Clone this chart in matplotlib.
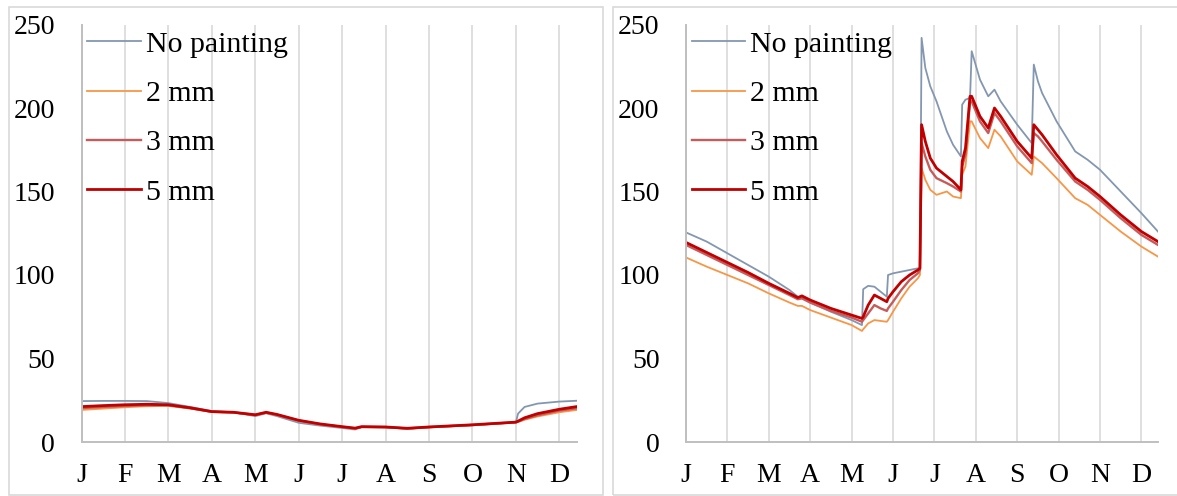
import matplotlib
matplotlib.use("Agg")
import matplotlib.pyplot as plt
from matplotlib.patches import Rectangle

plt.rcParams['font.family'] = ['Liberation Serif', 'DejaVu Serif']

months = ["J", "F", "M", "A", "M", "J", "J", "A", "S", "O", "N", "D"]
series_names = ["No painting", "2 mm", "3 mm", "5 mm"]

# left chart (month units from Jan 1)
left_x = [0, 0.5, 1, 1.5, 2, 2.5, 3, 3.5, 4, 4.25, 4.5, 5, 5.5, 6, 6.3, 6.45,
          7, 7.5, 8, 9, 10, 10.05, 10.2, 10.5, 11, 11.4]
left_none = [24.5, 24.6, 24.6, 24.5, 23.3, 21, 18.5, 17.8, 15.5, 17.2, 15.5, 11.5, 9.8,
             8.4, 7.5, 9, 8.8, 7.9, 8.8, 10, 11.8, 17, 21, 23, 24.2, 24.7]
left_2mm = [19.2, 20, 20.8, 21.4, 21.6, 20, 18, 17.6, 16, 17.4, 16.2, 12.6, 10.4,
            8.9, 8, 8.9, 8.8, 8, 8.8, 10.1, 11.7, 12, 13.3, 15.3, 17.8, 19.2]
left_3mm = [20.3, 21, 21.6, 22, 22, 20.3, 18.1, 17.7, 16.2, 17.6, 16.3, 12.8, 10.6,
            9.0, 8.1, 9.0, 8.9, 8.1, 8.9, 10.2, 11.8, 12.2, 13.8, 16, 18.8, 20.2]
left_5mm = [21.2, 21.8, 22.3, 22.6, 22.3, 20.5, 18.2, 17.8, 16.3, 17.8, 16.5, 13, 10.8,
            9.2, 8.3, 9.2, 9, 8.2, 9, 10.3, 11.9, 12.5, 14.5, 17, 19.6, 21.2]

# right chart
right_x = [0, 0.5, 1, 1.5, 2, 2.5, 2.7, 2.8, 3.0, 3.5, 4.0, 4.25, 4.28, 4.4, 4.55, 4.7,
           4.85, 4.88, 5.0, 5.2, 5.4, 5.6, 5.65, 5.69, 5.78, 5.9, 6.05, 6.3, 6.45, 6.64,
           6.67, 6.75, 6.86, 6.9, 7.1, 7.3, 7.45, 7.6, 8.0, 8.35, 8.4, 8.5, 8.6, 8.95,
           9.4, 9.7, 10.0, 10.5, 11.0, 11.4]
right_none = [125.5, 120, 113, 106, 99, 91, 87, 86.5, 83.5, 78, 73, 70, 91.5, 93.5, 93, 90,
              87, 100, 101, 102, 103, 104, 104, 242, 224, 213, 204, 186, 178, 171,
              202, 205, 206, 234, 217, 207, 211, 204, 190, 179, 226, 216, 209, 192,
              174, 169, 163, 150, 137, 126]
right_2mm = [110.5, 105, 100, 95, 89, 83.5, 81.5, 81.5, 79, 74.5, 70, 66.5, 67.5, 71, 73, 72.5,
             72, 73, 78, 86, 93, 98, 100, 164, 157, 151, 148, 150, 147, 146,
             160, 165, 192, 192, 182, 176, 187, 183, 168, 160, 171, 169, 167, 158,
             146, 142, 136, 126, 117, 111]
right_3mm = [118, 112, 106, 100, 94, 88, 85.5, 86, 83.5, 78.5, 74.5, 72, 73, 77, 82, 80,
             78.5, 80, 84, 91, 97, 101, 103, 179, 171, 163, 158, 155, 153, 150,
             165, 172, 204, 204, 192, 185, 197, 192, 177, 167, 185, 183, 180, 169,
             156, 151, 145, 134, 124, 118]
right_5mm = [119.5, 113.5, 107.5, 101.5, 95, 89, 86.5, 87.5, 85, 80, 76, 74, 75, 82, 88, 86,
             84, 86, 90, 96, 100, 103, 104, 190, 180, 170, 164, 159, 156, 151,
             168, 176, 207, 207, 195, 188, 200, 195, 180, 170, 190, 187, 184, 172,
             158, 153, 147, 136, 126, 120]

colors = ["#8497B0", "#F79646", "#C65B5B", "#C00000"]
widths = [1.3, 1.3, 1.7, 2.0]

W, H = 1177, 496
fig = plt.figure(figsize=(W / 100, H / 100), dpi=100)

# chart area borders
for x0, x1 in [(9, 602.5), (612.5, 1180)]:
    fig.patches.append(Rectangle((x0 / W, 1 - 495 / H), (x1 - x0) / W, (495 - 7) / H,
                                 transform=fig.transFigure, fill=False,
                                 edgecolor="#D9D9D9", linewidth=1.2))


def draw(ax, xs, ys_list):
    for ys, c, lw, name in zip(ys_list, colors, widths, series_names):
        ax.plot(xs, ys, color=c, lw=lw, label=name, solid_joinstyle="round")
    ax.set_xlim(0, 11.4)
    ax.set_ylim(0, 250)
    ax.set_yticks(range(0, 251, 50))
    ax.set_xticks(range(12))
    ax.set_xticklabels(months)
    ax.grid(axis="x", color="#D9D9D9", lw=1.2)
    ax.set_axisbelow(True)
    for s in ["top", "right"]:
        ax.spines[s].set_visible(False)
    for s in ["left", "bottom"]:
        ax.spines[s].set_color("#BFBFBF")
        ax.spines[s].set_linewidth(1.4)
    ax.tick_params(axis="y", length=0, pad=19, labelsize=20)
    ax.tick_params(axis="x", length=0, pad=15, labelsize=20)
    ax.legend(loc="upper left", bbox_to_anchor=(0.012, 0.985), frameon=False,
              fontsize=21.5, handlelength=1.8, handletextpad=0.15, labelspacing=0.75,
              borderpad=0, borderaxespad=0)


ax1 = fig.add_axes([81.5 / W, 1 - 442 / H, (576.7 - 81.5) / W, (442 - 24.5) / H])
draw(ax1, left_x, [left_none, left_2mm, left_3mm, left_5mm])

ax2 = fig.add_axes([686 / W, 1 - 442 / H, (1158 - 686) / W, (442 - 24.5) / H])
draw(ax2, right_x, [right_none, right_2mm, right_3mm, right_5mm])

fig.savefig("out.png", dpi=100)
